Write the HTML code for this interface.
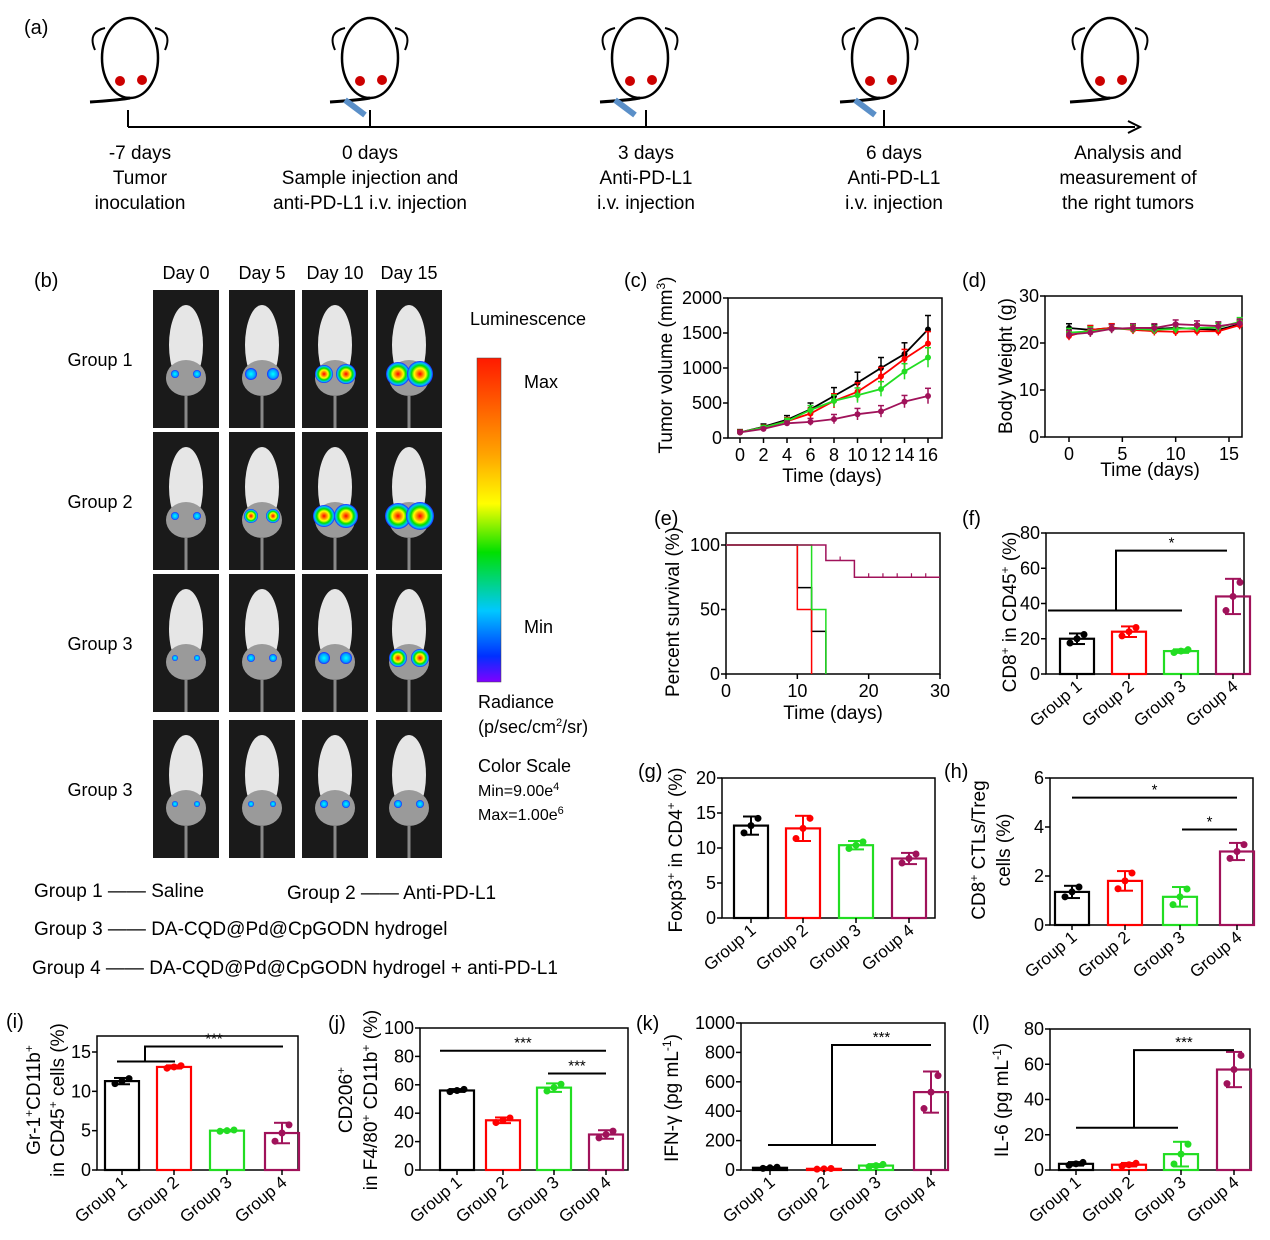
<!DOCTYPE html>
<html><head><meta charset="utf-8"><style>
body{margin:0;background:#fff;}
svg{display:block;font-family:"Liberation Sans",sans-serif;}
</style></head><body>
<svg id="fig" width="1270" height="1240" viewBox="0 0 1270 1240" xmlns="http://www.w3.org/2000/svg">
<defs>
<linearGradient id="cbar" x1="0" y1="0" x2="0" y2="1">
<stop offset="0" stop-color="#ff1a00"/><stop offset="0.3" stop-color="#ffa500"/><stop offset="0.45" stop-color="#ffff00"/><stop offset="0.6" stop-color="#00e000"/><stop offset="0.78" stop-color="#00c8ff"/><stop offset="0.92" stop-color="#0030ff"/><stop offset="1" stop-color="#8000ff"/>
</linearGradient>
<radialGradient id="spot"><stop offset="0" stop-color="#ff0000"/><stop offset="0.45" stop-color="#ffff00"/><stop offset="0.65" stop-color="#00e000"/><stop offset="0.85" stop-color="#00c0ff"/><stop offset="1" stop-color="#2020ff"/></radialGradient>
<radialGradient id="spotc"><stop offset="0" stop-color="#00ffff"/><stop offset="0.7" stop-color="#00a0ff"/><stop offset="1" stop-color="#2020ff"/></radialGradient>
</defs>
<g id="schem"></g>
<g id="imaging"></g>
<g id="charts"></g>
</svg>
<script>
// ---- data ----
const days = [0,2,4,6,8,10,12,14,16];
const tvBlack = [80,160,260,410,600,790,1000,1200,1550];
const tvRed = [80,150,240,350,530,660,880,1130,1350];
const tvGreen = [80,150,240,400,530,610,700,950,1150];
const tvPurple = [80,130,210,230,270,340,380,520,600];
const tvErr = [40,40,60,90,120,150,150,160,200];
const bwDays = [0,2,4,6,8,10,12,14,16];
const bwBlack = [21.8,22.2,23.0,23.2,23.2,24.0,23.8,23.6,24.2];
const bwRed = [21.5,22.8,23.2,22.8,22.5,22.4,22.5,22.5,23.8];
const bwGreen = [22.2,22.5,23.0,23.0,22.8,23.0,23.2,23.3,24.5];
const bwPurple = [23.2,22.8,23.2,23.0,23.0,23.2,23.0,22.8,24.0];
const survBlack = [[0,100],[10,67],[12,33],[14,0]];
const survRed = [[0,100],[10,50],[12,0]];
const survGreen = [[0,100],[12,50],[14,0]];
const survPurple = [[0,100],[14,88],[18,75],[30,75]];
const groups = ["Group 1","Group 2","Group 3","Group 4"];
const fVals=[20,24,13,44], fErr=[3,3,1,10];
const gVals=[13.2,12.8,10.4,8.5], gErr=[1.3,1.8,0.6,0.8];
const hVals=[1.35,1.8,1.15,3.0], hErr=[0.25,0.4,0.4,0.35];
const iVals=[11.3,13.1,5.0,4.7], iErr=[0.4,0.2,0.1,1.3];
const jVals=[56,35,58,25], jErr=[1,2,3,3];
const kVals=[15,8,30,530], kErr=[5,3,10,140];
const lVals=[3.5,3,9,57], lErr=[1,1,7,10];
const COLORS=["#000000","#ff0000","#22dd22","#a0125a"];

const NS="http://www.w3.org/2000/svg";
function mk(parent,tag,attrs,name,text){
  const e=document.createElementNS(NS,tag);
  for(const k in attrs)e.setAttribute(k,attrs[k]);
  
  
  if(text!==undefined)e.textContent=text;
  parent.appendChild(e);return e;
}
function txt(p,x,y,s,size,name,anchor,extra){
  const a=Object.assign({x:x,y:y,'font-size':size,'text-anchor':anchor||'middle',fill:'#000'},extra||{});
  return mk(p,'text',a,name,s);
}
function scale(d0,d1,r0,r1){return v=>r0+(v-d0)/(d1-d0)*(r1-r0);}

// ---- schematic ----
const S=document.getElementById('schem');
txt(S,24,34,"(a)",20,"panel-label-a","start");
const mx=[130,370,640,880,1110];
mx.forEach((x,i)=>{
  const g=mk(S,'g',{},'mouse-icon');
  mk(g,'ellipse',{cx:x,cy:58,rx:28,ry:40,fill:'#fff',stroke:'#000','stroke-width':2.5},'mouse-body');
  mk(g,'path',{d:`M${x-35} ${50} q-8 -18 10 -22 M${x+35} ${50} q8 -18 -10 -22`,fill:'none',stroke:'#000','stroke-width':2},'mouse-ears');
  mk(g,'circle',{cx:x-10,cy:81,r:5,fill:'#c00'},'tumor-left');
  mk(g,'circle',{cx:x+12,cy:80,r:5,fill:'#c00'},'tumor-right');
  mk(g,'path',{d:`M${x} 98 q-10 2 -40 4`,fill:'none',stroke:'#000','stroke-width':3},'mouse-tail');
  if(i>0&&i<4){mk(g,'line',{x1:x-25,y1:100,x2:x-5,y2:115,stroke:'#5a8fc8','stroke-width':6},'syringe');}
});
mk(S,'line',{x1:128,y1:127,x2:1135,y2:127,stroke:'#000','stroke-width':2},'timeline-axis');
mk(S,'path',{d:'M1128 121 L1140 127 L1128 133',fill:'none',stroke:'#000','stroke-width':2},'timeline-arrow');
[128,370,646,884].forEach(x=>mk(S,'line',{x1:x,y1:110,x2:x,y2:127,stroke:'#000','stroke-width':2},'timeline-tick'));
const labs=[[140,["-7 days","Tumor","inoculation"]],[370,["0 days","Sample injection and","anti-PD-L1 i.v. injection"]],[646,["3 days","Anti-PD-L1","i.v. injection"]],[894,["6 days","Anti-PD-L1","i.v. injection"]],[1128,["Analysis and","measurement of","the right tumors"]]];
labs.forEach(([x,ls])=>ls.forEach((l,j)=>txt(S,x,159+j*25,l,19,'timeline-label')));

// ---- imaging ----
const I=document.getElementById('imaging');
txt(I,34,287,"(b)",20,"panel-label-b","start");
const cols=[153,229,302,376],cw=66;
const rowsY=[290,432,574,720],rh=138;
["Day 0","Day 5","Day 10","Day 15"].forEach((d,i)=>txt(I,cols[i]+cw/2,279,d,18,'day-label'));
["Group 1","Group 2","Group 3","Group 3"].forEach((g,i)=>txt(I,100,rowsY[i]+76,g,18,'group-label'));
const spotR=[[4,6,9,12],[4,7,11,13],[3,4,6,9],[3,3,4,4]];
rowsY.forEach((y,r)=>cols.forEach((x,c)=>{
  const g=mk(I,'g',{},'mouse-image');
  mk(g,'rect',{x:x,y:y,width:cw,height:rh,fill:'#1a1a1a'},'image-bg');
  mk(g,'ellipse',{cx:x+cw/2,cy:y+55,rx:17,ry:40,fill:'#e6e6e6'},'mouse-fur');
  mk(g,'ellipse',{cx:x+cw/2,cy:y+88,rx:20,ry:18,fill:'#9a9a9a'},'mouse-lower');
  mk(g,'line',{x1:x+cw/2,y1:y+105,x2:x+cw/2,y2:y+rh,stroke:'#888','stroke-width':3},'mouse-tail');
  const R=spotR[r][c];
  mk(g,'circle',{cx:x+cw/2-11,cy:y+84,r:R,fill:R>6?'url(#spot)':'url(#spotc)'},'bio-signal');
  mk(g,'circle',{cx:x+cw/2+11,cy:y+84,r:R+(c>1&&r<2?1:0),fill:R>6?'url(#spot)':'url(#spotc)'},'bio-signal');
}));
txt(I,470,325,"Luminescence",18,'colorbar-title','start');
mk(I,'rect',{x:477,y:358,width:24,height:324,fill:'url(#cbar)',stroke:'#444','stroke-width':0.5},'colorbar');
txt(I,524,388,"Max",18,'colorbar-max','start');
txt(I,524,633,"Min",18,'colorbar-min','start');
txt(I,478,708,"Radiance",18,'radiance-label','start');
const rl=txt(I,478,733,"(p/sec/cm",18,'radiance-units','start');
rl.innerHTML='(p/sec/cm<tspan dy="-7" font-size="11">2</tspan><tspan dy="7">/sr)</tspan>';
txt(I,478,772,"Color Scale",18,'color-scale-label','start');
const mn=txt(I,478,796,"",16,'color-scale-min','start');mn.innerHTML='Min=9.00e<tspan dy="-6" font-size="11">4</tspan>';
const mxx=txt(I,478,820,"",16,'color-scale-max','start');mxx.innerHTML='Max=1.00e<tspan dy="-6" font-size="11">6</tspan>';
[[34,897,"Group 1 —— Saline"],[287,899,"Group 2 —— Anti-PD-L1"],[34,935,"Group 3 —— DA-CQD@Pd@CpGODN hydrogel"],[32,974,"Group 4 —— DA-CQD@Pd@CpGODN hydrogel + anti-PD-L1"]].forEach(([x,y,s])=>txt(I,x,y,s,19,'group-legend','start'));

// ---- charts ----
const C=document.getElementById('charts');
const TF=18;
function axesBox(p,x0,x1,y0,y1,name){mk(p,'rect',{x:x0,y:y1,width:x1-x0,height:y0-y1,fill:'none',stroke:'#000','stroke-width':1.5},name);}
function yTicks(p,ys,vals,x0){vals.forEach(v=>{mk(p,'line',{x1:x0-5,y1:ys(v),x2:x0,y2:ys(v),stroke:'#000','stroke-width':1.5},'y-tick');txt(p,x0-6,ys(v)+6,String(v),TF,'y-tick-label','end');});}
function yTitle(p,x,y,s,name,fs){const t=txt(p,x,y,'',fs||19,name,'middle',{transform:`rotate(-90 ${x} ${y})`});t.innerHTML=s;return t;}

function lineChart(o){
  const g=mk(C,'g',{},o.name);
  const xs=scale(o.xd[0],o.xd[1],o.xr[0],o.xr[1]),ys=scale(o.yd[0],o.yd[1],o.yr[0],o.yr[1]);
  axesBox(g,o.box[0],o.box[1],o.yr[0],o.box[2],'plot-frame');
  yTicks(g,ys,o.yt,o.box[0]);
  o.xt.forEach(v=>{mk(g,'line',{x1:xs(v),y1:o.yr[0],x2:xs(v),y2:o.yr[0]+5,stroke:'#000','stroke-width':1.5},'x-tick');txt(g,xs(v),o.yr[0]+23,String(v),TF,'x-tick-label');});
  o.series.forEach((s,si)=>{
    const col=COLORS[si];
    const pts=o.x.map((d,i)=>xs(d)+','+ys(s[i])).join(' ');
    mk(g,'polyline',{points:pts,fill:'none',stroke:col,'stroke-width':1.8},'series-line');
    o.x.forEach((d,i)=>{
      const e=o.err?o.err[i]*(1-si*0.15):0.9;
      mk(g,'line',{x1:xs(d),y1:ys(s[i]-e),x2:xs(d),y2:ys(s[i]+e),stroke:col,'stroke-width':1.5},'error-bar');
      mk(g,'line',{x1:xs(d)-3,y1:ys(s[i]+e),x2:xs(d)+3,y2:ys(s[i]+e),stroke:col,'stroke-width':1.5},'error-cap');
      mk(g,'circle',{cx:xs(d),cy:ys(s[i]),r:3,fill:col},'data-point');
    });
  });
  return {g,xs,ys};
}
// (c)
txt(C,624,287,"(c)",20,'panel-label-c','start');
const c=lineChart({name:'tumor-volume-chart',x:days,series:[tvBlack,tvRed,tvGreen,tvPurple],err:tvErr,xd:[0,16],xr:[740,928],yd:[0,2000],yr:[438,298],box:[728,942,298],yt:[0,500,1000,1500,2000],xt:days});
txt(c.g,832,482,"Time (days)",19,'x-axis-title');
yTitle(c.g,672,365,'Tumor volume (mm<tspan dy="-7" font-size="12">3</tspan><tspan dy="7">)</tspan>','y-axis-title');
// (d)
txt(C,962,287,"(d)",20,'panel-label-d','start');
const d=lineChart({name:'body-weight-chart',x:bwDays,series:[bwPurple,bwRed,bwGreen,bwBlack],err:null,xd:[0,15],xr:[1069,1229],yd:[0,30],yr:[437,296],box:[1045,1242,296],yt:[0,10,20,30],xt:[0,5,10,15]});
txt(d.g,1150,476,"Time (days)",19,'x-axis-title');
yTitle(d.g,1012,366,'Body Weight (g)','y-axis-title');
// (e)
txt(C,654,525,"(e)",20,'panel-label-e','start');
{
  const g=mk(C,'g',{},'survival-chart');
  const xs=scale(0,30,726,940),ys=scale(0,100,674,545);
  axesBox(g,726,940,674,533,'plot-frame');
  yTicks(g,ys,[0,50,100],726);
  [0,10,20,30].forEach(v=>{mk(g,'line',{x1:xs(v),y1:674,x2:xs(v),y2:679,stroke:'#000','stroke-width':1.5},'x-tick');txt(g,xs(v),697,String(v),TF,'x-tick-label');});
  [survBlack,survRed,survGreen,survPurple].forEach((s,si)=>{
    let dstr=`M${xs(s[0][0])} ${ys(s[0][1])}`;
    for(let i=1;i<s.length;i++){dstr+=` H${xs(s[i][0])} V${ys(s[i][1])}`;}
    mk(g,'path',{d:dstr,fill:'none',stroke:COLORS[si],'stroke-width':1.5},'survival-curve');
  });
  [16,20,22,24,26,28].forEach(t=>mk(g,'line',{x1:xs(t),y1:ys(survPurple[t<18?1:2][1])-4,x2:xs(t),y2:ys(survPurple[t<18?1:2][1]),stroke:COLORS[3],'stroke-width':1.2},'censor-mark'));
  txt(g,833,719,"Time (days)",19,'x-axis-title');
  yTitle(g,679,612,'Percent survival (%)','y-axis-title');
}
function barChart(o){
  const g=mk(C,'g',{},o.name);
  const ys=scale(0,o.ymax,o.y0,o.ytop);
  axesBox(g,o.box[0],o.box[1],o.y0,o.box[2],'plot-frame');
  yTicks(g,ys,o.yt,o.box[0]);
  const bw=34;
  o.vals.forEach((v,i)=>{
    const cx=o.cx[i],col=COLORS[i];
    mk(g,'rect',{x:cx-bw/2,y:ys(v),width:bw,height:o.y0-ys(v),fill:'none',stroke:col,'stroke-width':2.2},'bar-'+groups[i].toLowerCase().replace(' ',''));
    const e=o.err[i];
    mk(g,'line',{x1:cx,y1:ys(v-e),x2:cx,y2:ys(v+e),stroke:col,'stroke-width':2},'error-bar');
    [v-e,v+e].forEach(ev=>mk(g,'line',{x1:cx-8,y1:ys(ev),x2:cx+8,y2:ys(ev),stroke:col,'stroke-width':2},'error-cap'));
    [-7,0,7].forEach((dx,k)=>mk(g,'circle',{cx:cx+dx,cy:ys(v+(k-1)*e*0.8),r:3.5,fill:col},'data-point'));
    mk(g,'line',{x1:cx,y1:o.y0,x2:cx,y2:o.y0+5,stroke:'#000','stroke-width':1.5},'x-tick');
    const lx=cx+6,ly=o.y0+14;
    txt(g,lx,ly,groups[i],17,'x-tick-label','end',{transform:`rotate(-40 ${lx} ${ly})`});
  });
  (o.sig||[]).forEach(s=>{
    if(s.type==='h'){mk(g,'line',{x1:s.x1,y1:ys(s.y),x2:s.x2,y2:ys(s.y),stroke:'#000','stroke-width':2},'significance-line');txt(g,(s.x1+s.x2)/2,ys(s.y)-3,s.t,15,'significance-star');}
    else{
      mk(g,'line',{x1:s.x1,y1:ys(s.y1),x2:s.x2,y2:ys(s.y1),stroke:'#000','stroke-width':2},'significance-line');
      mk(g,'path',{d:`M${s.xm} ${ys(s.y1)} V${ys(s.y2)} H${s.x3}`,fill:'none',stroke:'#000','stroke-width':2},'significance-bracket');
      txt(g,(s.xm+s.x3)/2,ys(s.y2)-3,s.t,15,'significance-star');
    }
  });
  return {g,ys};
}
// (f)
txt(C,962,525,"(f)",20,'panel-label-f','start');
const f=barChart({name:'cd8-chart',vals:fVals,err:fErr,ymax:80,y0:674,ytop:533,box:[1046,1244,533],yt:[0,20,40,60,80],cx:[1077,1129,1181,1233],sig:[{x1:1048,x2:1182,y1:36,xm:1116,y2:70,x3:1227,t:'*'}]});
yTitle(f.g,1016,612,'CD8<tspan dy="-7" font-size="12">+</tspan><tspan dy="7"> in CD45</tspan><tspan dy="-7" font-size="12">+</tspan><tspan dy="7"> (%)</tspan>','y-axis-title');
// (g)
txt(C,638,778,"(g)",20,'panel-label-g','start');
const gg=barChart({name:'foxp3-chart',vals:gVals,err:gErr,ymax:20,y0:918,ytop:778,box:[722,935,778],yt:[0,5,10,15,20],cx:[751,803,856,909]});
yTitle(gg.g,682,850,'Foxp3<tspan dy="-7" font-size="12">+</tspan><tspan dy="7"> in CD4</tspan><tspan dy="-7" font-size="12">+</tspan><tspan dy="7"> (%)</tspan>','y-axis-title');
// (h)
txt(C,944,778,"(h)",20,'panel-label-h','start');
const h=barChart({name:'cd8-treg-ratio-chart',vals:hVals,err:hErr,ymax:6,y0:925,ytop:778,box:[1050,1253,778],yt:[0,2,4,6],cx:[1072,1125,1180,1237],sig:[{type:'h',x1:1072,x2:1237,y:5.2,t:'*'},{type:'h',x1:1182,x2:1237,y:3.9,t:'*'}]});
yTitle(h.g,985,850,'CD8<tspan dy="-7" font-size="12">+</tspan><tspan dy="7"> CTLs/Treg</tspan>','y-axis-title');
yTitle(h.g,1010,850,'cells (%)','y-axis-title-2');
// (i)
txt(C,6,1028,"(i)",20,'panel-label-i','start');
const ii=barChart({name:'mdsc-chart',vals:iVals,err:iErr,ymax:15,y0:1170,ytop:1052,box:[97,298,1036],yt:[0,5,10,15],cx:[122,174,227,282],sig:[{x1:117,x2:175,y1:13.8,xm:145,y2:15.7,x3:283,t:'***'}]});
yTitle(ii.g,40,1100,'Gr-1<tspan dy="-7" font-size="12">+</tspan><tspan dy="7">CD11b</tspan><tspan dy="-7" font-size="12">+</tspan>','y-axis-title');
yTitle(ii.g,64,1100,'in CD45<tspan dy="-7" font-size="12">+</tspan><tspan dy="7"> cells (%)</tspan>','y-axis-title-2');
// (j)
txt(C,328,1030,"(j)",20,'panel-label-j','start');
const jj=barChart({name:'m2-macrophage-chart',vals:jVals,err:jErr,ymax:100,y0:1170,ytop:1028,box:[420,628,1028],yt:[0,20,40,60,80,100],cx:[457,503,554,606],sig:[{type:'h',x1:440,x2:606,y:84,t:'***'},{type:'h',x1:548,x2:606,y:68,t:'***'}]});
yTitle(jj.g,352,1100,'CD206<tspan dy="-7" font-size="12">+</tspan>','y-axis-title');
yTitle(jj.g,377,1100,'in F4/80<tspan dy="-7" font-size="12">+</tspan><tspan dy="7"> CD11b</tspan><tspan dy="-7" font-size="12">+</tspan><tspan dy="7"> (%)</tspan>','y-axis-title-2');
// (k)
txt(C,636,1030,"(k)",20,'panel-label-k','start');
const kk=barChart({name:'ifn-gamma-chart',vals:kVals,err:kErr,ymax:1000,y0:1170,ytop:1023,box:[741,945,1023],yt:[0,200,400,600,800,1000],cx:[770,824,876,931],sig:[{x1:768,x2:876,y1:170,xm:832,y2:850,x3:931,t:'***'}]});
yTitle(kk.g,678,1098,'IFN-γ (pg mL<tspan dy="-7" font-size="12">-1</tspan><tspan dy="7">)</tspan>','y-axis-title');
// (l)
txt(C,972,1030,"(l)",20,'panel-label-l','start');
const ll=barChart({name:'il6-chart',vals:lVals,err:lErr,ymax:80,y0:1170,ytop:1029,box:[1050,1250,1029],yt:[0,20,40,60,80],cx:[1076,1129,1181,1234],sig:[{x1:1076,x2:1178,y1:24,xm:1134,y2:68,x3:1234,t:'***'}]});
yTitle(ll.g,1008,1100,'IL-6 (pg mL<tspan dy="-7" font-size="12">-1</tspan><tspan dy="7">)</tspan>','y-axis-title');
</script>
</body></html>
